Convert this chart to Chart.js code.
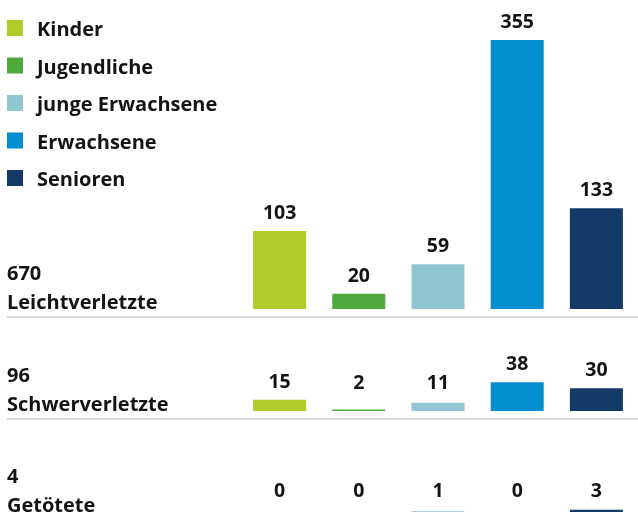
<!DOCTYPE html>
<html lang="de">
<head>
<meta charset="utf-8">
<title>Verunglückte nach Altersgruppen</title>
<script src="https://cdn.jsdelivr.net/npm/chart.js@4.4.1/dist/chart.umd.min.js"></script>
<style>
  html, body { margin: 0; padding: 0; background: #ffffff; overflow: hidden; }
  #wrap { position: relative; width: 638px; height: 518px; }
</style>
</head>
<body>
<div id="wrap"><canvas id="chart" width="638" height="518"></canvas></div>
<script>
// Altersgruppen (x categories) and their colours
const categories = ['Kinder', 'Jugendliche', 'junge Erwachsene', 'Erwachsene', 'Senioren'];
const categoryColors = ['#b1cb29', '#4fa93c', '#8fc6d2', '#018fd0', '#143b68'];

// One row per severity
const rowNames = ['Leichtverletzte', 'Schwerverletzte', 'Getötete'];
const leichtverletzte = [103, 20, 59, 355, 133];
const schwerverletzte = [15, 2, 11, 38, 30];
const getoetete = [0, 0, 1, 0, 3];
const rowValues = [leichtverletzte, schwerverletzte, getoetete];

// Layout: all rows share the same pixels-per-person scale
const PX_PER_UNIT = 269 / 355;
const ROW_HEIGHTS = [317, 102, 99];     // stacked y-axis slices, top to bottom
const ROW_BASE_INSET = [8, 8, 6];       // gap between bar base and row bottom
const LABEL_FLOOR = [22, 22, 15];       // lowest value-label baseline above the base
const TEXT_COLOR = '#141414';
const FONT_FAMILY = '"Open Sans", "Noto Sans", sans-serif';
const TEXT_FONT = '700 20px ' + FONT_FAMILY;
const VALUE_FONT = '700 19.5px ' + FONT_FAMILY;

const scales = {
  x: { type: 'category', display: false, offset: true, grid: { display: false } }
};
rowValues.forEach((vals, i) => {
  scales['y' + i] = {
    type: 'linear',
    position: 'right',
    display: false,
    stack: 'rows',
    stackWeight: ROW_HEIGHTS[i],
    min: -ROW_BASE_INSET[i] / PX_PER_UNIT,
    max: (ROW_HEIGHTS[i] - ROW_BASE_INSET[i]) / PX_PER_UNIT
  };
});

const sum = arr => arr.reduce((a, b) => a + b, 0);

// Legend, row captions, separators and value labels
const annotate = {
  id: 'annotate',
  afterDatasetsDraw(chart) {
    const ctx = chart.ctx;
    ctx.save();
    ctx.fillStyle = TEXT_COLOR;
    ctx.textBaseline = 'alphabetic';
    ctx.font = TEXT_FONT;

    // legend
    ctx.textAlign = 'left';
    categories.forEach((name, i) => {
      const baseline = 36 + i * 37.5;
      ctx.fillStyle = categoryColors[i];
      ctx.fillRect(7, baseline - 16, 16, 16);
      ctx.fillStyle = TEXT_COLOR;
      ctx.fillText(name, 37, baseline);
    });

    // row captions and separators
    chart.data.datasets.forEach((ds, i) => {
      const yScale = chart.scales[chart.getDatasetMeta(i).yAxisID];
      const base = yScale.getPixelForValue(0);
      ctx.fillStyle = TEXT_COLOR;
      ctx.textAlign = 'left';
      ctx.fillText(String(sum(ds.data)), 7, base - 29);
      ctx.fillText(rowNames[i], 7, base);
      if (i < chart.data.datasets.length - 1) {
        ctx.strokeStyle = '#dddddd';
        ctx.lineWidth = 2;
        ctx.beginPath();
        ctx.moveTo(7, yScale.bottom);
        ctx.lineTo(chart.width, yScale.bottom);
        ctx.stroke();
      }
    });

    // value labels above bars
    ctx.font = VALUE_FONT;
    ctx.textAlign = 'center';
    ctx.fillStyle = TEXT_COLOR;
    chart.data.datasets.forEach((ds, i) => {
      const meta = chart.getDatasetMeta(i);
      const base = chart.scales[meta.yAxisID].getPixelForValue(0);
      meta.data.forEach((bar, j) => {
        const y = Math.min(bar.y - 12, base - LABEL_FLOOR[i]);
        ctx.fillText(String(ds.data[j]), bar.x, y);
      });
    });
    ctx.restore();
  }
};

new Chart(document.getElementById('chart'), {
  type: 'bar',
  data: {
    labels: categories,
    datasets: rowValues.map((vals, i) => ({
      label: rowNames[i],
      data: vals,
      xAxisID: 'x',
      yAxisID: 'y' + i,
      backgroundColor: categoryColors,
      borderWidth: 0,
      inflateAmount: 0,
      grouped: false,
      barThickness: 53
    }))
  },
  options: {
    responsive: false,
    animation: false,
    devicePixelRatio: 1,
    layout: { padding: { left: 240, right: 2, top: 0, bottom: 0 } },
    plugins: {
      legend: { display: false },
      tooltip: { enabled: false }
    },
    scales
  },
  plugins: [annotate]
});
</script>
</body>
</html>
